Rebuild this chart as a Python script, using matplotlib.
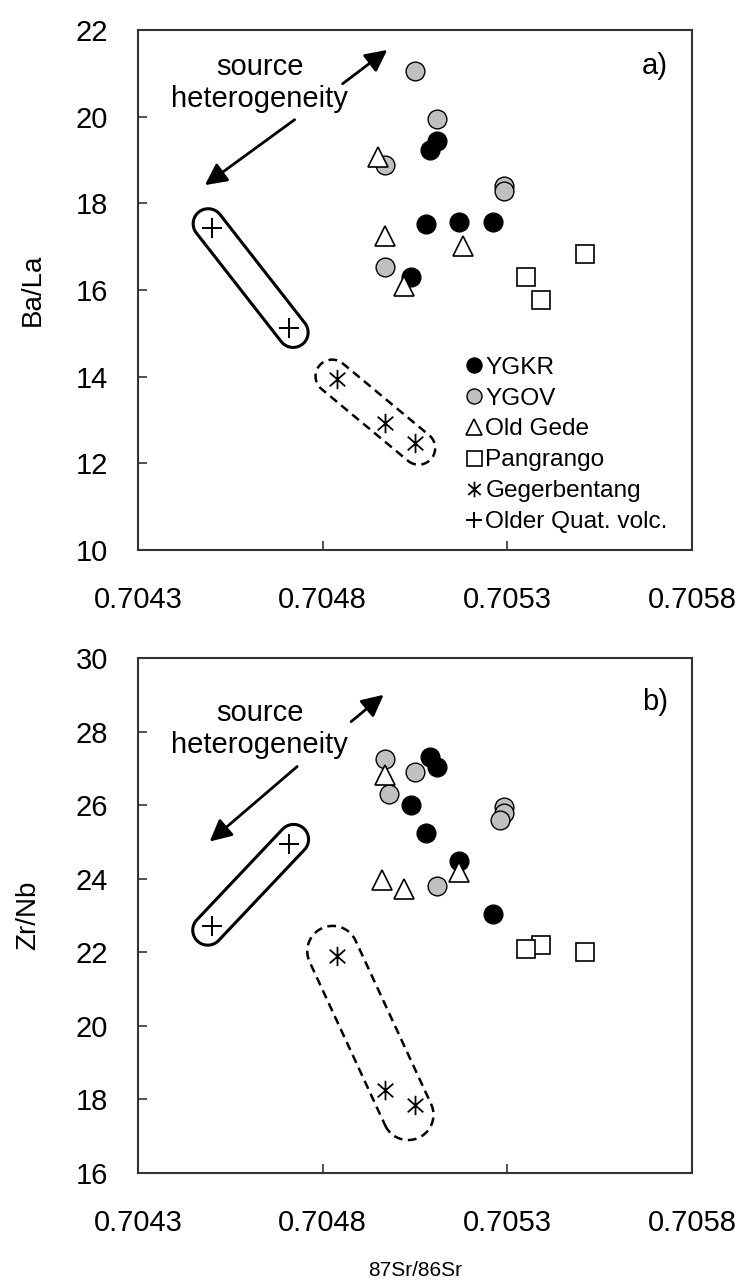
import numpy as np
import matplotlib
matplotlib.use("Agg")
import matplotlib.pyplot as plt
from matplotlib.path import Path
from matplotlib.patches import Polygon

plt.rcParams['font.family'] = ['Liberation Sans', 'DejaVu Sans']

# 87Sr/86Sr and trace element ratios per volcanic group
ygkr_sr = [0.70511, 0.70509, 0.70508, 0.70517, 0.70526, 0.70504]
ygkr_bala = [19.44, 19.23, 17.52, 17.57, 17.58, 16.29]
ygkr_sr_b = [0.70509, 0.70511, 0.70504, 0.70508, 0.70517, 0.70526]
ygkr_zrnb = [27.30, 27.05, 26.01, 25.24, 24.47, 23.05]

ygov_sr = [0.70505, 0.70511, 0.70497, 0.70529, 0.70529, 0.70497]
ygov_bala = [21.05, 19.95, 18.89, 18.41, 18.28, 16.53]
ygov_sr_b = [0.70497, 0.70505, 0.70498, 0.70511, 0.70529, 0.70529, 0.70528]
ygov_zrnb = [27.25, 26.91, 26.31, 23.79, 25.96, 25.78, 25.60]

oldgede_sr = [0.70495, 0.70497, 0.70518, 0.70502]
oldgede_bala = [19.07, 17.24, 17.01, 16.10]
oldgede_sr_b = [0.70497, 0.70496, 0.70502, 0.70517]
oldgede_zrnb = [26.82, 23.97, 23.72, 24.18]

pang_sr = [0.70551, 0.70535, 0.70539]
pang_bala = [16.82, 16.31, 15.77]
pang_sr_b = [0.70539, 0.70535, 0.70551]
pang_zrnb = [22.21, 22.09, 22.01]

geger_sr = [0.70484, 0.70497, 0.70505]
geger_bala = [13.94, 12.94, 12.47]
geger_sr_b = [0.70484, 0.70497, 0.70505]
geger_zrnb = [21.91, 18.25, 17.85]

oqv_sr = [0.70450, 0.70471]
oqv_bala = [17.42, 15.13]
oqv_sr_b = [0.70471, 0.70450]
oqv_zrnb = [24.95, 22.72]

xticks = [0.7043, 0.7048, 0.7053, 0.7058]
yticks_a = [10, 12, 14, 16, 18, 20, 22]
yticks_b = [16, 18, 20, 22, 24, 26, 28, 30]

# arrow (start, tip) pairs for the "source heterogeneity" annotation
arrows_a = [((0.704854, 20.76), (0.704975, 21.54)),
            ((0.704724, 19.93), (0.704481, 18.42))]
arrows_b = [((0.704877, 28.27), (0.704965, 29.00)),
            ((0.704731, 27.05), (0.704494, 25.01))]
text_a = (0.70463, 20.78)
text_b = (0.70463, 28.07)

# asterisk: vertical bar plus an X
star = Path([(0, -1), (0, 1), (-0.8, -0.7), (0.8, 0.7), (-0.8, 0.7), (0.8, -0.7)],
            [Path.MOVETO, Path.LINETO] * 3)

W, H = 747, 1287
fig = plt.figure(figsize=(W / 100, H / 100), dpi=100)
ax_a = fig.add_axes([138 / W, 1 - 550 / H, 554 / W, 520 / H])
ax_b = fig.add_axes([138 / W, 1 - 1173 / H, 554 / W, 515 / H])


def capsule(ax, xs, ys, pad, radius, **kw):
    # enclosing rounded outline around a group, built in pixel space
    pts = ax.transData.transform(np.column_stack([xs, ys]))
    c = pts.mean(axis=0)
    d = pts - c
    u = np.linalg.svd(d)[2][0]
    n = np.array([-u[1], u[0]])
    t = d @ u
    s = d @ n
    t0, t1 = t.min() - pad, t.max() + pad
    c = c + n * (s.max() + s.min()) / 2
    r = (s.max() - s.min()) / 2 + radius
    ang = np.linspace(-np.pi / 2, np.pi / 2, 40)
    end1 = [c + u * (t1 + r * np.cos(a)) + n * (r * np.sin(a)) for a in ang]
    end0 = [c + u * (t0 - r * np.cos(a)) + n * (-r * np.sin(a)) for a in ang]
    poly = np.array(end1 + end0)
    ax.add_patch(Polygon(ax.transData.inverted().transform(poly), closed=True,
                         fill=False, **kw))


def draw(ax, groups, ylim, yticks, ylabel, ylabel_x, tag, tag_y, arrows, text_xy):
    ax.set_xlim(0.7043, 0.7058)
    ax.set_ylim(*ylim)
    ax.set_xticks(xticks)
    ax.set_xticklabels([f'{v:.4f}' for v in xticks])
    ax.set_yticks(yticks)
    ax.tick_params(direction='in', length=6.5, width=1.2, labelsize=21, color='#333333')
    ax.tick_params(axis='x', pad=26)
    ax.tick_params(axis='y', pad=21.5)
    for sp in ax.spines.values():
        sp.set_color('#333333')
        sp.set_linewidth(1.5)
    ax.set_ylabel(ylabel, fontsize=20)
    ax.yaxis.set_label_coords(ylabel_x, 0.5)

    (kr, ov, og, pg, gg, oq) = groups
    ax.plot(*kr, ls='none', marker='o', ms=13.5, mfc='black', mec='black', mew=1, label='YGKR')
    ax.plot(*ov, ls='none', marker='o', ms=13.5, mfc='#c0c0c0', mec='black', mew=1, label='YGOV')
    ax.plot(*og, ls='none', marker='^', ms=14, mfc='white', mec='black', mew=1.2, label='Old Gede')
    ax.plot(*pg, ls='none', marker='s', ms=13.5, mfc='white', mec='black', mew=1.2, label='Pangrango')
    ax.plot(*gg, ls='none', marker=star, ms=14, mfc='none', mec='black', mew=1.3, label='Gegerbentang')
    ax.plot(*oq, ls='none', marker='+', ms=15, mec='black', mew=1.4, label='Older Quat. volc.')

    capsule(ax, *oq, pad=6, radius=15, color='black', lw=2.2)
    capsule(ax, *gg, pad=6, radius=15, color='black', lw=1.8, linestyle=(0, (3.5, 2.2)))

    for start, tip in arrows:
        ax.annotate('', xy=tip, xytext=start,
                    arrowprops=dict(arrowstyle='-|>,head_length=0.66,head_width=0.33',
                                    mutation_scale=20, lw=2, color='black',
                                    shrinkA=0, shrinkB=0))
    ax.text(*text_xy, 'source\nheterogeneity', fontsize=21, ha='center', va='center',
            linespacing=1.2)
    ax.text(0.956, tag_y, tag, transform=ax.transAxes, fontsize=21, ha='right', va='center')


draw(ax_a,
     [(ygkr_sr, ygkr_bala), (ygov_sr, ygov_bala), (oldgede_sr, oldgede_bala),
      (pang_sr, pang_bala), (geger_sr, geger_bala), (oqv_sr, oqv_bala)],
     (10, 22), yticks_a, 'Ba/La', -0.166, 'a)', 0.931, arrows_a, text_a)
draw(ax_b,
     [(ygkr_sr_b, ygkr_zrnb), (ygov_sr_b, ygov_zrnb), (oldgede_sr_b, oldgede_zrnb),
      (pang_sr_b, pang_zrnb), (geger_sr_b, geger_zrnb), (oqv_sr_b, oqv_zrnb)],
     (16, 30), yticks_b, 'Zr/Nb', -0.175, 'b)', 0.915, arrows_b, text_b)

ax_a.legend(loc='upper left', bbox_to_anchor=(0.594, 0.372), frameon=False,
            fontsize=17.6, markerscale=0.8, handlelength=0.6, handletextpad=0.15,
            labelspacing=0.36, borderpad=0, borderaxespad=0)

fig.text(415 / W, 1 - 1270 / H, '87Sr/86Sr', fontsize=15, ha='center', va='center')

fig.savefig('out.png', dpi=100)
